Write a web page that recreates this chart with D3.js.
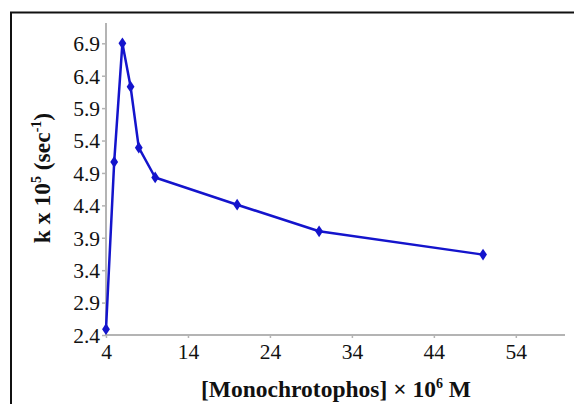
<!DOCTYPE html>
<html><head><meta charset="utf-8">
<script src="https://cdn.jsdelivr.net/npm/d3@7"></script>
<style>html,body{margin:0;padding:0;background:#fff;}svg{display:block;}
svg text{font-family:'Liberation Serif','Times New Roman',serif !important;}</style>
</head><body>
<svg id="c" width="574" height="404"></svg>
<script>
const concentration = [4, 5, 6, 7, 8, 10, 20, 30, 50];
const rateK = [2.49, 5.07, 6.9, 6.23, 5.29, 4.83, 4.41, 4.0, 3.64];
const xTicks = [4, 14, 24, 34, 44, 54];
const yTicks = [2.4, 2.9, 3.4, 3.9, 4.4, 4.9, 5.4, 5.9, 6.4, 6.9];

(function () {
const svg = d3.select("#c");
const pLeft = 106, pRight = 565, pTop = 23, pBottom = 335;
const x = d3.scaleLinear().domain([4, 60]).range([pLeft, pRight]);
const y = d3.scaleLinear().domain([2.4, 6.9]).range([pBottom, 43.3]);

svg.append("rect").attr("x", 11).attr("y", 12.5).attr("width", 570).attr("height", 400)
  .attr("fill", "#fff").attr("stroke", "#111").attr("stroke-width", 2);

const axisCol = "#b4b4b4";

const gx = svg.append("g").attr("transform", `translate(0,${pBottom})`)
  .call(d3.axisBottom(x).tickValues(xTicks).tickSize(3).tickSizeOuter(0).tickPadding(6));
const gy = svg.append("g").attr("transform", `translate(${pLeft},0)`)
  .call(d3.axisLeft(y).tickValues(yTicks).tickFormat(d3.format(".1f")).tickSize(4).tickSizeOuter(0).tickPadding(2));
[gx, gy].forEach(g => {
  g.attr("font-size", null).attr("font-family", null);
  g.selectAll("text").style("font-size", "21.5px").style("fill", "#111");
  g.select(".domain").attr("stroke", axisCol).attr("stroke-width", 2);
  g.selectAll(".tick line").attr("stroke", axisCol).attr("stroke-width", 1.5);
});
gy.selectAll("text").attr("dy", "0.34em");
gy.select(".domain").attr("d", `M0,${pBottom}V${pTop}`);
gx.select(".domain").attr("d", `M${pLeft},0H${pRight}`);

const pts = concentration.map((c, i) => [c, rateK[i]]);
const blue = "#1414cc";
svg.append("path").datum(pts)
  .attr("d", d3.line().x(d => x(d[0])).y(d => y(d[1])))
  .attr("fill", "none").attr("stroke", blue).attr("stroke-width", 2.5).attr("stroke-linejoin", "round");
svg.append("g").selectAll("path").data(pts).join("path")
  .attr("d", d3.symbol(d3.symbolDiamond, 40))
  .attr("transform", d => `translate(${x(d[0])},${y(d[1])}) scale(1.15,1)`)
  .attr("fill", blue);

const xt = svg.append("text").attr("x", 336).attr("y", 397).attr("text-anchor", "middle")
  .style("font-size", "23.5px").attr("font-weight", "bold").attr("fill", "#111");
xt.append("tspan").text("[Monochrotophos] × 10");
xt.append("tspan").text("6").style("font-size", "14px").attr("dy", -9);
xt.append("tspan").text(" M").attr("dy", 9);

const yt = svg.append("text").attr("transform", "translate(50,178) rotate(-90)").attr("text-anchor", "middle")
  .style("font-size", "23.5px").attr("font-weight", "bold").attr("fill", "#111");
yt.append("tspan").text("k x 10");
yt.append("tspan").text("5").style("font-size", "14px").attr("dy", -9);
yt.append("tspan").text(" (sec").attr("dy", 9);
yt.append("tspan").text("-1").style("font-size", "14px").attr("dy", -9);
yt.append("tspan").text(")").attr("dy", 9);
})();
</script>
</body></html>
